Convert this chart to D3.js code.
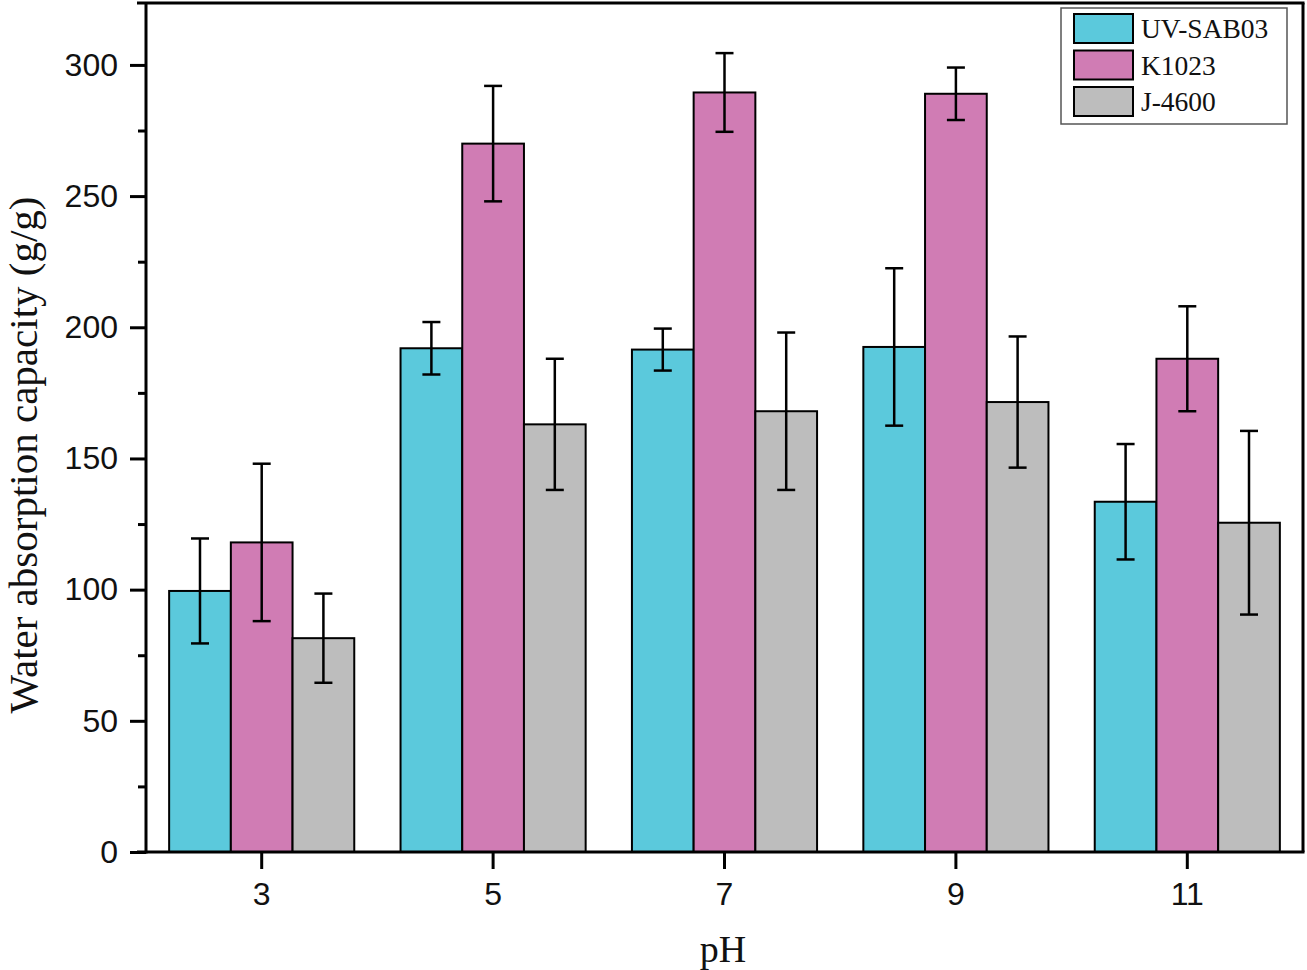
<!DOCTYPE html>
<html><head><meta charset="utf-8">
<script src="https://cdn.jsdelivr.net/npm/d3@7"></script>
<style>body{margin:0;background:#fff}svg{display:block}</style>
</head><body>
<svg id="c" width="1307" height="970"></svg>
<script>
const categories = ["3","5","7","9","11"];
const seriesNames = ["UV-SAB03","K1023","J-4600"];
const seriesColors = ["#5BC9DC","#D07CB4","#BDBDBD"];
const uvValues = [99.5,192,191.5,192.5,133.5];
const uvErrors = [20,10,8,30,22];
const kValues = [118,270,289.5,289,188];
const kErrors = [30,22,15,10,20];
const jValues = [81.5,163,168,171.5,125.5];
const jErrors = [17,25,30,25,35];
const yTicks = [0,50,100,150,200,250,300];
const yMinorTicks = [25,75,125,175,225,275];

const seriesVals = [uvValues,kValues,jValues];
const seriesErrs = [uvErrors,kErrors,jErrors];

const svg = d3.select("#c");
const L=146, R=1303, T=3, B=852;
const x = d3.scaleBand().domain(categories).range([L,R]).paddingInner(0.2).paddingOuter(0.1);
const xs = d3.scaleBand().domain(seriesNames).range([0,x.bandwidth()]);
const y = d3.scaleLinear().domain([0,323.6]).range([B,T]);

// bars
const g = svg.append("g");
categories.forEach((c,i)=>{
  seriesNames.forEach((s,j)=>{
    const v = seriesVals[j][i];
    const bx = x(c)+xs(s), bw = xs.bandwidth();
    g.append("rect").attr("x",bx).attr("y",y(v)).attr("width",bw).attr("height",y(0)-y(v))
      .attr("fill",seriesColors[j]).attr("stroke","#000").attr("stroke-width",2);
  });
});
// error bars
categories.forEach((c,i)=>{
  seriesNames.forEach((s,j)=>{
    const v = seriesVals[j][i], e = seriesErrs[j][i];
    const cx = x(c)+xs(s)+xs.bandwidth()/2;
    g.append("line").attr("x1",cx).attr("x2",cx).attr("y1",y(v+e)).attr("y2",y(v-e)).attr("stroke","#000").attr("stroke-width",2.5);
    [v+e,v-e].forEach(t=>g.append("line").attr("x1",cx-9).attr("x2",cx+9).attr("y1",y(t)).attr("y2",y(t)).attr("stroke","#000").attr("stroke-width",2.5));
  });
});

// axes
const yAxis = d3.axisLeft(y).tickValues(yTicks).tickSize(16).tickPadding(12).tickFormat(d3.format("d"));
const ya = svg.append("g").attr("transform",`translate(${L},0)`).call(yAxis);
const yMinor = d3.axisLeft(y).tickValues(yMinorTicks).tickSize(8).tickFormat("");
const ym = svg.append("g").attr("transform",`translate(${L},0)`).call(yMinor);
const xAxis = d3.axisBottom(x).tickSize(17).tickPadding(13);
const xa = svg.append("g").attr("transform",`translate(0,${B})`).call(xAxis);
[ya,ym,xa].forEach(a=>{
  a.select(".domain").remove();
  a.selectAll(".tick line").attr("stroke","#000").attr("stroke-width",3);
  a.selectAll("text").attr("font-family","Liberation Sans, Arial, sans-serif").attr("font-size",32).attr("fill","#111");
});
// frame
svg.append("line").attr("x1",L).attr("x2",L).attr("y1",T).attr("y2",B+1.5).attr("stroke","#000").attr("stroke-width",3);
svg.append("line").attr("x1",L-9).attr("x2",R+1.5).attr("y1",B).attr("y2",B).attr("stroke","#000").attr("stroke-width",3);
svg.append("line").attr("x1",137).attr("x2",R+1.5).attr("y1",T).attr("y2",T).attr("stroke","#000").attr("stroke-width",3);
svg.append("line").attr("x1",R).attr("x2",R).attr("y1",T).attr("y2",B).attr("stroke","#000").attr("stroke-width",3);

// titles
svg.append("text").attr("transform","translate(37,455) rotate(-90)").attr("text-anchor","middle")
  .attr("font-family","Liberation Serif, Times New Roman, serif").attr("font-size",41).attr("fill","#111")
  .text("Water absorption capacity (g/g)");
svg.append("text").attr("x",723).attr("y",962).attr("text-anchor","middle")
  .attr("font-family","Liberation Serif, Times New Roman, serif").attr("font-size",38).attr("fill","#111").text("pH");

// legend
const lg = svg.append("g");
lg.append("rect").attr("x",1061).attr("y",8).attr("width",226).attr("height",116).attr("fill","#fff").attr("stroke","#555").attr("stroke-width",1.5);
seriesNames.forEach((s,j)=>{
  const yy = 14 + j*36.5;
  lg.append("rect").attr("x",1074).attr("y",yy).attr("width",59).attr("height",29).attr("fill",seriesColors[j]).attr("stroke","#000").attr("stroke-width",2);
  lg.append("text").attr("x",1141).attr("y",yy+24).attr("font-family","Liberation Serif, Times New Roman, serif").attr("font-size",27.5).attr("fill","#111").text(s);
});
</script>
</body></html>
